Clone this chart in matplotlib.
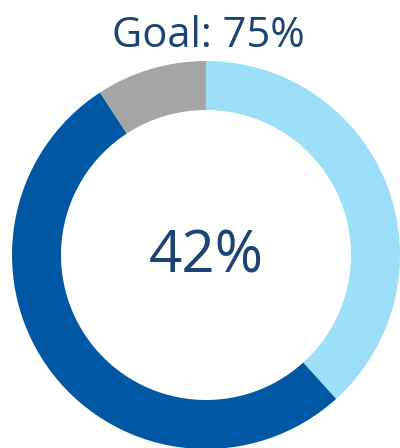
import matplotlib.pyplot as plt

labels = ['Done', 'Remaining', 'Other']
values = [38.3, 52.5, 9.2]
colors = ['#9DDFF8', '#0057A4', '#A5A5A5']
title = 'Goal: 75%'
center_label = '42%'

plt.rcParams['font.family'] = ['Open Sans', 'DejaVu Sans']

fig = plt.figure(figsize=(4.0, 4.48), dpi=100)
ax = fig.add_axes([0, 0, 1, 1])

r_px = 194.0
cx, cy = 206.0, 448 - 255.0
ax.pie(values, colors=colors, startangle=90, counterclock=False, radius=1.0,
       wedgeprops=dict(width=49 / r_px, linewidth=0))
ax.set_xlim(-cx / r_px, (400 - cx) / r_px)
ax.set_ylim(-cy / r_px, (448 - cy) / r_px)
ax.set_aspect('equal')
ax.axis('off')

# texts placed by baseline
ax.text(2 / r_px, (401 - cy) / r_px, title, ha='center', va='baseline',
        fontsize=30, color='#1A4472')
ax.text(0.0, (175.3 - cy) / r_px, center_label, ha='center', va='baseline',
        fontsize=42, color='#1A4472')

fig.savefig('out.png', dpi=100)
